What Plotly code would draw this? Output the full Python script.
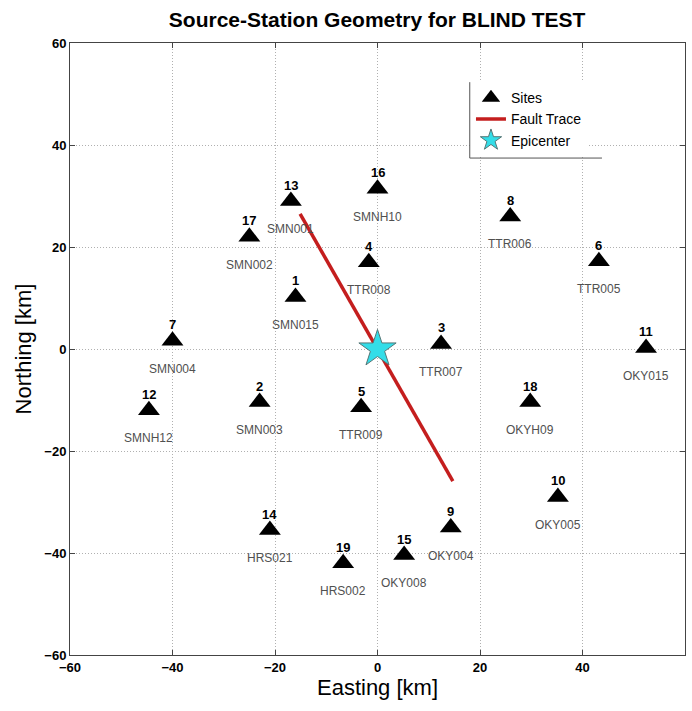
import plotly.graph_objects as go

site_num = [13, 16, 17, 4, 1, 8, 6, 7, 3, 11, 12, 2, 5, 18, 10, 9, 14, 15, 19]
site_name = ["SMN001", "SMNH10", "SMN002", "TTR008", "SMN015", "TTR006", "TTR005",
             "SMN004", "TTR007", "OKY015", "SMNH12", "SMN003", "TTR009", "OKYH09",
             "OKY005", "OKY004", "HRS021", "OKY008", "HRS002"]
site_x = [-16.9, 0.0, -25.0, -1.7, -16.0, 25.9, 43.2, -40.0, 12.4, 52.4, -44.6, -23.0,
          -3.2, 29.8, 35.2, 14.3, -21.0, 5.2, -6.7]
site_y = [29.0, 31.4, 22.0, 17.0, 10.2, 26.0, 17.2, 1.6, 1.0, 0.2, -12.0, -10.4,
          -11.4, -10.4, -29.0, -35.0, -35.5, -40.4, -42.0]

fault_x = [-15.1, 14.7]
fault_y = [26.5, -25.9]

epi_x = [0.0]
epi_y = [0.0]

ticks = [-60, -40, -20, 0, 20, 40, 60]

fig = go.Figure()
fig.add_trace(go.Scatter(x=site_x, y=site_y, mode="markers", name="Sites",
                         marker=dict(symbol="triangle-up", size=19, color="black")))
fig.add_trace(go.Scatter(x=fault_x, y=fault_y, mode="lines", name="Fault Trace",
                         line=dict(color="#c41e1e", width=3.5)))
fig.add_trace(go.Scatter(x=epi_x, y=epi_y, mode="markers", name="Epicenter",
                         marker=dict(symbol="star", size=28, color="#33dde8",
                                     line=dict(color="#557777", width=1))))

for n, nm, x, y in zip(site_num, site_name, site_x, site_y):
    fig.add_annotation(x=x, y=y, text="<b>" + str(n) + "</b>", showarrow=False, yshift=16,
                       font=dict(family="Liberation Sans", size=13, color="black"))
    fig.add_annotation(x=x, y=y, text=nm, showarrow=False, yshift=-28,
                       font=dict(family="Liberation Sans", size=12, color="#505050"))

# legend box lines (left and bottom)
fig.add_shape(type="line", xref="paper", yref="paper", x0=0.65, x1=0.65, y0=0.812, y1=0.936,
              line=dict(color="#555555", width=1))
fig.add_shape(type="line", xref="paper", yref="paper", x0=0.65, x1=0.865, y0=0.812, y1=0.812,
              line=dict(color="#555555", width=1))

axis_common = dict(range=[-60, 60], tickvals=ticks, showgrid=True, gridcolor="#b0b0b0",
                   griddash="1px,2px", gridwidth=1, zeroline=False, showline=True,
                   linecolor="#444444", linewidth=1, mirror="ticks", ticks="inside",
                   ticklen=5, tickcolor="#444444", automargin=False,
                   tickfont=dict(family="Liberation Sans", size=13, color="black",
                                 weight="bold"))

fig.update_layout(
    width=692, height=711,
    margin=dict(l=70, r=7, t=43, b=56),
    paper_bgcolor="white", plot_bgcolor="white",
    title=dict(text="<b>Source-Station Geometry for BLIND TEST</b>", x=0.545, xanchor="center",
               y=0.972, yref="container", yanchor="middle",
               font=dict(family="Liberation Sans", size=21, color="black")),
    xaxis=dict(axis_common, title=dict(text="Easting [km]", standoff=4,
               font=dict(family="Liberation Sans", size=22, color="black"))),
    yaxis=dict(axis_common, title=dict(text="Northing [km]", standoff=6,
               font=dict(family="Liberation Sans", size=22, color="black"))),
    legend=dict(x=0.652, y=0.936, xanchor="left", yanchor="top", bgcolor="rgba(255,255,255,1)",
                font=dict(family="Liberation Sans", size=14, color="black"),
                tracegroupgap=0, itemwidth=30),
    showlegend=True,
)

fig.write_html("out.html", config={"displayModeBar": False},
               post_script="document.body.style.margin='0';document.body.style.overflow='hidden';")
